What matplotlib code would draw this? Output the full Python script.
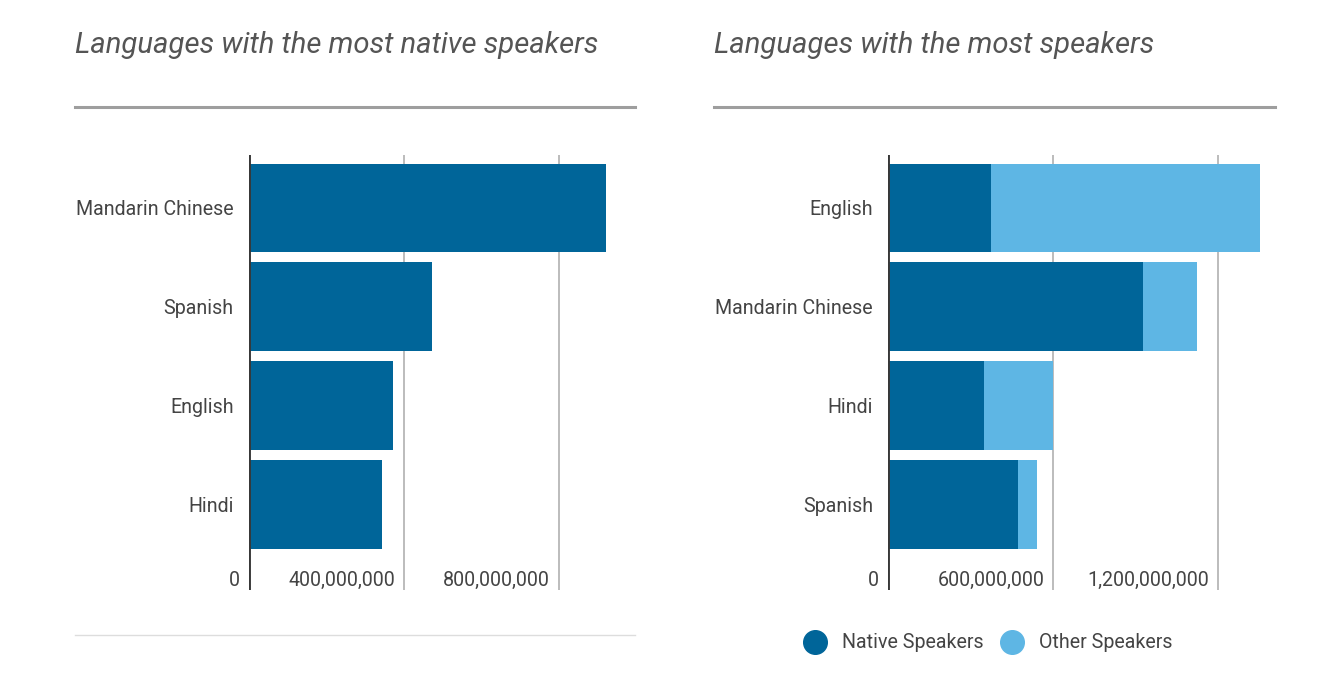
import matplotlib
matplotlib.use("Agg")
import matplotlib.pyplot as plt
from matplotlib.lines import Line2D
from matplotlib import transforms

plt.rcParams['font.family'] = ['Roboto', 'DejaVu Sans']

# left chart: native speakers
native_langs = ["Mandarin Chinese", "Spanish", "English", "Hindi"]
native_only = [920e6, 472e6, 372e6, 344e6]
left_ticks = [0, 400e6, 800e6]
left_tick_labels = ["0", "400,000,000", "800,000,000"]

# right chart: total speakers, split in native / other
total_langs = ["English", "Mandarin Chinese", "Hindi", "Spanish"]
total_native = [373e6, 926e6, 347e6, 470e6]
total_other = [977e6, 196e6, 253e6, 72e6]
right_ticks = [0, 600e6, 1200e6]
right_tick_labels = ["0", "600,000,000", "1,200,000,000"]

DARK = "#006599"
LIGHT = "#5eb6e4"
TXT = "#444444"
FS = 14.1
W, H = 1339, 674

fig = plt.figure(figsize=(W / 100, H / 100), dpi=100)


def px_box(x0, x1, ytop, ybot):
    return [x0 / W, 1 - ybot / H, (x1 - x0) / W, (ybot - ytop) / H]


def style_axes(ax, cats, ticks, tick_labels, xmax):
    ax.set_xlim(0, xmax)
    ax.set_ylim(len(cats) - 1 + 0.865, -0.536)
    for s in ax.spines.values():
        s.set_visible(False)
    ax.set_xticks([])
    ax.set_yticks(range(len(cats)))
    ax.set_yticklabels(cats, fontsize=FS, color=TXT)
    ax.tick_params(axis='y', length=0, pad=11)
    for t in ticks[1:]:
        ax.axvline(t, color="#aaaaaa", lw=1.1, zorder=0)
    ax.axvline(0, color="#383838", lw=2.8, zorder=3)
    # tick labels sit right-aligned just left of each grid line
    trans = transforms.blended_transform_factory(ax.transData, ax.transAxes)
    off = transforms.offset_copy(trans, fig=fig, x=-9, y=0, units='dots')
    for t, lab in zip(ticks, tick_labels):
        ax.text(t, 0.021, lab, transform=off, ha='right', va='center',
                fontsize=FS, color=TXT)


# left axes
ax1 = fig.add_axes(px_box(249, 636.5, 155, 590))
ax1.barh(range(len(native_langs)), native_only, height=0.9, color=DARK, zorder=2)
style_axes(ax1, native_langs, left_ticks, left_tick_labels, 1e9)

# right axes
ax2 = fig.add_axes(px_box(888.3, 1273.3, 155, 590))
ax2.barh(range(len(total_langs)), total_native, height=0.9, color=DARK, zorder=2)
ax2.barh(range(len(total_langs)), total_other, left=total_native, height=0.9,
         color=LIGHT, zorder=2)
style_axes(ax2, total_langs, right_ticks, right_tick_labels, 1.4e9)

# titles
title_kw = dict(fontsize=21.1, color="#555555", style='italic', fontweight='normal',
                va='center', ha='left')
fig.text(75 / W, 1 - 45 / H, "Languages with the most native speakers", **title_kw)
fig.text(714 / W, 1 - 45 / H, "Languages with the most speakers", **title_kw)

# header rules and footer rule
for x0, x1 in [(75, 635), (714, 1275)]:
    fig.add_artist(Line2D([x0 / W, x1 / W], [1 - 107 / H] * 2, color="#9e9e9e", lw=2.2))
fig.add_artist(Line2D([75 / W, 635 / W], [1 - 635 / H] * 2, color="#dddddd", lw=1))

# legend
handles = [Line2D([], [], marker='o', ls='', markersize=17, color=DARK),
           Line2D([], [], marker='o', ls='', markersize=17, color=LIGHT)]
fig.legend(handles, ["Native Speakers", "Other Speakers"], loc='center',
           bbox_to_anchor=(989 / W, 1 - 643 / H), ncol=2, frameon=False,
           fontsize=FS, labelcolor=TXT, handlelength=1.0, handletextpad=0.89,
           columnspacing=0.94)

fig.savefig("out.png", dpi=100)
